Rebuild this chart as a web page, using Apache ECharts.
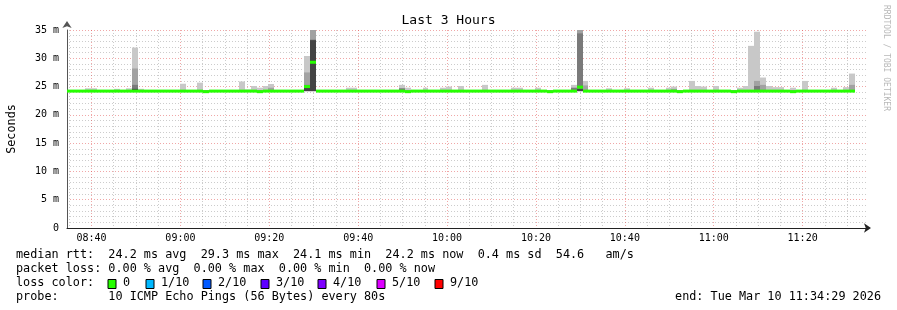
<!DOCTYPE html>
<html><head><meta charset="utf-8">
<script src="https://cdn.jsdelivr.net/npm/echarts@6/dist/echarts.min.js"></script>
<style>html,body{margin:0;padding:0;background:#fff}#c{width:897px;height:310px}</style>
</head><body><div id="c"></div>
<script>
// ---- data (ms), one value per 80 s step starting at startTime ----
const startTime = '08:34:29';
const stepSeconds = 80;
const rangeSeconds = 10800;
const tickLabels = ['08:40','09:00','09:20','09:40','10:00','10:20','10:40','11:00','11:20'];
const yTicks = [0,5,10,15,20,25,30,35];

const medianRtt = [
24.2,24.2,24.2,24.2,24.2,24.2,24.2,24.2,24.2,24.2,
24.2,24.2,24.2,24.2,24.2,24.2,24.2,24.2,24.2,24.2,
24.2,24.2,24.2,24.1,24.2,24.2,24.2,24.2,24.2,24.2,
24.2,24.2,24.1,24.2,24.2,24.2,24.2,24.2,24.2,24.2,
25.0,29.3,24.2,24.2,24.2,24.2,24.2,24.2,24.2,24.2,
24.2,24.2,24.2,24.2,24.2,24.2,24.2,24.1,24.2,24.2,
24.2,24.2,24.2,24.2,24.2,24.2,24.2,24.2,24.2,24.2,
24.2,24.2,24.2,24.2,24.2,24.2,24.2,24.2,24.2,24.2,
24.2,24.1,24.2,24.2,24.2,24.2,24.9,24.2,24.2,24.2,
24.2,24.2,24.2,24.2,24.2,24.2,24.2,24.2,24.2,24.2,
24.2,24.2,24.2,24.1,24.2,24.2,24.2,24.2,24.2,24.2,
24.2,24.2,24.1,24.2,24.2,24.2,24.2,24.2,24.2,24.2,
24.2,24.2,24.1,24.2,24.2,24.2,24.2,24.2,24.2,24.2,
24.2,24.2,24.2];

const pingMin = [
24.1,24.1,24.1,24.1,24.1,24.1,24.1,24.1,24.1,24.1,
24.1,24.1,24.1,24.1,24.1,24.1,24.1,24.1,24.1,24.1,
24.1,24.1,24.1,24.0,24.1,24.1,24.1,24.1,24.1,24.1,
24.1,24.1,24.0,24.1,24.1,24.1,24.1,24.1,24.1,24.1,
24.2,24.2,24.1,24.1,24.1,24.1,24.1,24.1,24.1,24.1,
24.1,24.1,24.1,24.1,24.1,24.1,24.1,24.0,24.1,24.1,
24.1,24.1,24.1,24.1,24.1,24.1,24.1,24.1,24.1,24.1,
24.1,24.1,24.1,24.1,24.1,24.1,24.1,24.1,24.1,24.1,
24.1,24.0,24.1,24.1,24.1,24.1,24.2,24.1,24.1,24.1,
24.1,24.1,24.1,24.1,24.1,24.1,24.1,24.1,24.1,24.1,
24.1,24.1,24.1,24.0,24.1,24.1,24.1,24.1,24.1,24.1,
24.1,24.1,24.0,24.1,24.1,24.1,24.1,24.1,24.1,24.1,
24.1,24.1,24.0,24.1,24.1,24.1,24.1,24.1,24.1,24.1,
24.1,24.1,24.1];

// outer smoke band top (highest ping)
const smokeOuter = [
24.4,24.4,24.4,24.7,24.7,24.4,24.4,24.4,24.6,24.4,
24.7,31.9,24.6,24.4,24.4,24.4,24.4,24.4,24.4,25.5,
24.4,24.4,25.7,24.4,24.4,24.4,24.4,24.4,24.4,25.9,
24.5,25.1,24.8,25.1,25.45,24.4,24.4,24.4,24.4,24.4,
30.4,35.4,24.4,24.4,24.4,24.4,24.4,24.8,24.8,24.4,
24.4,24.4,24.4,24.4,24.4,24.4,25.3,24.8,24.4,24.4,
24.8,24.4,24.4,24.8,25.0,24.4,25.1,24.4,24.4,24.4,
25.3,24.4,24.4,24.4,24.4,24.8,24.8,24.4,24.4,24.8,
24.4,24.4,24.4,24.4,24.4,25.3,35.4,26.0,24.4,24.4,
24.4,24.7,24.4,24.4,24.7,24.4,24.4,24.4,24.8,24.4,
24.4,24.8,25.0,24.4,24.4,26.0,25.1,25.0,24.4,25.1,
24.4,24.4,24.4,24.8,25.1,32.2,34.7,26.6,25.1,24.9,
24.9,24.4,24.8,24.4,26.0,24.4,24.4,24.4,24.4,24.8,
24.4,24.9,27.3];

const smokeSecond = [
24.3,24.3,24.3,24.3,24.3,24.3,24.3,24.3,24.3,24.3,
24.3,28.2,24.3,24.3,24.3,24.3,24.3,24.3,24.3,24.3,
24.3,24.3,24.3,24.3,24.3,24.3,24.3,24.3,24.3,24.3,
24.3,24.3,24.3,24.3,24.8,24.3,24.3,24.3,24.3,24.3,
27.5,35.3,24.3,24.3,24.3,24.3,24.3,24.3,24.3,24.3,
24.3,24.3,24.3,24.3,24.3,24.3,24.3,24.3,24.3,24.3,
24.3,24.3,24.3,24.3,24.3,24.3,24.3,24.3,24.3,24.3,
24.3,24.3,24.3,24.3,24.3,24.3,24.3,24.3,24.3,24.3,
24.3,24.3,24.3,24.3,24.3,24.3,35.3,25.2,24.3,24.3,
24.3,24.3,24.3,24.3,24.3,24.3,24.3,24.3,24.3,24.3,
24.3,24.3,24.6,24.3,24.3,24.3,24.3,24.3,24.3,24.3,
24.3,24.3,24.3,24.3,24.3,24.3,26.0,25.3,24.3,24.3,
24.3,24.3,24.3,24.3,24.3,24.3,24.3,24.3,24.3,24.3,
24.3,24.3,25.3];

const smokeThird = [
24.3,24.3,24.3,24.3,24.3,24.3,24.3,24.3,24.3,24.3,
24.3,25.3,24.3,24.3,24.3,24.3,24.3,24.3,24.3,24.3,
24.3,24.3,24.3,24.3,24.3,24.3,24.3,24.3,24.3,24.3,
24.3,24.3,24.3,24.3,24.3,24.3,24.3,24.3,24.3,24.3,
25.3,33.3,24.3,24.3,24.3,24.3,24.3,24.3,24.3,24.3,
24.3,24.3,24.3,24.3,24.3,24.3,24.7,24.3,24.3,24.3,
24.3,24.3,24.3,24.3,24.3,24.3,24.3,24.3,24.3,24.3,
24.3,24.3,24.3,24.3,24.3,24.3,24.3,24.3,24.3,24.3,
24.3,24.3,24.3,24.3,24.3,24.8,34.4,24.3,24.3,24.3,
24.3,24.3,24.3,24.3,24.3,24.3,24.3,24.3,24.3,24.3,
24.3,24.3,24.3,24.3,24.3,24.3,24.3,24.3,24.3,24.3,
24.3,24.3,24.3,24.3,24.3,24.3,25.1,24.3,24.3,24.3,
24.3,24.3,24.3,24.3,24.3,24.3,24.3,24.3,24.3,24.3,
24.3,24.3,24.3];

const smokeInner = [
24.2,24.2,24.2,24.2,24.2,24.2,24.2,24.2,24.2,24.2,
24.2,24.6,24.2,24.2,24.2,24.2,24.2,24.2,24.2,24.2,
24.2,24.2,24.2,24.2,24.2,24.2,24.2,24.2,24.2,24.2,
24.2,24.2,24.2,24.2,24.2,24.2,24.2,24.2,24.2,24.2,
25.1,33.2,24.2,24.2,24.2,24.2,24.2,24.2,24.2,24.2,
24.2,24.2,24.2,24.2,24.2,24.2,24.2,24.2,24.2,24.2,
24.2,24.2,24.2,24.2,24.2,24.2,24.2,24.2,24.2,24.2,
24.2,24.2,24.2,24.2,24.2,24.2,24.2,24.2,24.2,24.2,
24.2,24.2,24.2,24.2,24.2,24.2,24.6,24.2,24.2,24.2,
24.2,24.2,24.2,24.2,24.2,24.2,24.2,24.2,24.2,24.2,
24.2,24.2,24.2,24.2,24.2,24.2,24.2,24.2,24.2,24.2,
24.2,24.2,24.2,24.2,24.2,24.2,24.2,24.2,24.2,24.2,
24.2,24.2,24.2,24.2,24.2,24.2,24.2,24.2,24.2,24.2,
24.2,24.2,24.2];

const smokeColors = ['#c8c8c8','#a2a2a2','#7a7a7a','#444444'];
const medianColor = '#26ff00';
const lossLabels = ['0','1/10','2/10','3/10','4/10','5/10','9/10'];
const lossColors = ['#26ff00','#00b8ff','#0059ff','#5e00ff','#7e00ff','#dd00ff','#ff0000'];

const legendLines = [
  'median rtt:  24.2 ms avg  29.3 ms max  24.1 ms min  24.2 ms now  0.4 ms sd  54.6   am/s',
  'packet loss: 0.00 % avg  0.00 % max  0.00 % min  0.00 % now',
  'loss color:',
  'probe:       10 ICMP Echo Pings (56 Bytes) every 80s'
];
const endText = 'end: Tue Mar 10 11:34:29 2026';

// ---- helpers ----
function hms(s){const p=s.split(':').map(Number);return p[0]*3600+p[1]*60+(p[2]||0);}
function fmt(v){const h=Math.floor(v/3600),m=Math.round((v%3600)/60);return String(h).padStart(2,'0')+':'+String(m).padStart(2,'0');}
const t0 = hms(startTime), tEnd = t0 + rangeSeconds;
const majorTimes = tickLabels.map(hms);
const minorTimes = [];
for (let t = Math.ceil(t0/300)*300; t < tEnd; t += 300) if (majorTimes.indexOf(t) < 0) minorTimes.push(t);

const rows = medianRtt.map((m,i)=>[t0+i*stepSeconds, t0+(i+1)*stepSeconds, pingMin[i], smokeOuter[i], smokeSecond[i], smokeThird[i], smokeInner[i], m]);

const MONO = '"DejaVu Sans Mono", "Liberation Mono", monospace';
const FS = '11.8px ';

function renderSmoke(params, api){
  const xa = Math.round(api.coord([api.value(0),0])[0]);
  const xb = Math.round(api.coord([api.value(1),0])[0]);
  const yb = api.coord([api.value(0), api.value(2)])[1];
  const ch = [];
  for (let k=0;k<4;k++){
    const yt = api.coord([api.value(0), api.value(3+k)])[1];
    if (yb - yt > 0.2) ch.push({type:'rect', shape:{x:xa,y:yt,width:xb-xa,height:yb-yt}, style:{fill:smokeColors[k]}});
  }
  return {type:'group', children:ch};
}
function renderMedian(params, api){
  const xa = Math.round(api.coord([api.value(0),0])[0]);
  const xb = Math.round(api.coord([api.value(1),0])[0]);
  const ym = api.coord([api.value(0), api.value(7)])[1];
  return {type:'rect', shape:{x:xa,y:ym-1.5,width:xb-xa,height:3}, style:{fill:medianColor}};
}

const graphics = [];
const rowY = [254,268,282,296];
legendLines.forEach((t,i)=>graphics.push({type:'text', left:16, top:rowY[i]-5, style:{text:t, font:FS+MONO, fill:'#000'}}));
graphics.push({type:'text', right:16, top:rowY[3]-5, style:{text:endText, font:FS+MONO, fill:'#000'}});
const boxX = [108,146,203,261,318,377,435];
lossLabels.forEach((l,i)=>{
  graphics.push({type:'rect', shape:{x:boxX[i], y:rowY[2]-2.5, width:8, height:9}, style:{fill:lossColors[i], stroke:'#000', lineWidth:1}});
  graphics.push({type:'text', left:boxX[i]+15, top:rowY[2]-5, style:{text:l, font:FS+MONO, fill:'#000'}});
});
graphics.push({type:'text', x:890, y:5, rotation:-Math.PI/2, style:{text:'RRDTOOL / TOBI OETIKER', font:'8px '+MONO, fill:'#b8b8b8'}});

const chart = echarts.init(document.getElementById('c'), null, {renderer:'canvas'});
chart.setOption({
  backgroundColor:'#ffffff',
  animation:false,
  title:{text:'Last 3 Hours', left:'center', top:9, textStyle:{fontFamily:MONO, fontSize:13, fontWeight:'normal', color:'#000'}},
  grid:{left:67, top:30, width:800, height:198, containLabel:false, outerBoundsMode:'none'},
  xAxis:[{
    type:'value', min:t0, max:tEnd,
    axisLine:{show:true, lineStyle:{color:'#222', width:1}, symbol:['none','arrow'], symbolSize:[7,7], symbolOffset:[0,4]},
    axisTick:{show:false, customValues:majorTimes},
    axisLabel:{customValues:majorTimes, formatter:fmt, fontFamily:MONO, fontSize:10, color:'#000', margin:5},
    splitLine:{show:true, lineStyle:{color:'rgba(222,60,60,0.45)', type:[1,2], width:1}}
  },{
    type:'value', min:t0, max:tEnd, position:'bottom',
    axisLine:{show:false}, axisLabel:{show:false},
    axisTick:{show:false, customValues:minorTimes},
    splitLine:{show:true, lineStyle:{color:'rgba(143,143,143,0.45)', type:[1,2], width:1}}
  }],
  yAxis:{
    type:'value', min:0, max:35, interval:5,
    name:'Seconds', nameLocation:'middle', nameGap:49, nameRotate:90,
    nameTextStyle:{fontFamily:MONO, fontSize:11.8, color:'#000'},
    axisLine:{show:true, lineStyle:{color:'#555', width:1}, symbol:['none','arrow'], symbolSize:[7,7], symbolOffset:[0,9]},
    axisTick:{show:false},
    axisLabel:{formatter:v=> v===0 ? '0' : v+' m', fontFamily:MONO, fontSize:10, color:'#000', margin:8},
    splitLine:{show:true, lineStyle:{color:'rgba(222,60,60,0.45)', type:[1,2], width:1}},
    minorTick:{show:false, splitNumber:5},
    minorSplitLine:{show:true, lineStyle:{color:'rgba(143,143,143,0.45)', type:[1,2], width:1}}
  },
  series:[
    {type:'custom', name:'smoke', renderItem:renderSmoke, data:rows, encode:{x:[0,1], y:[2,3]}, clip:true, z:2},
    {type:'custom', name:'median', renderItem:renderMedian, data:rows, encode:{x:[0,1], y:7}, clip:true, z:3}
  ],
  graphic:graphics
});
</script>
</body></html>
